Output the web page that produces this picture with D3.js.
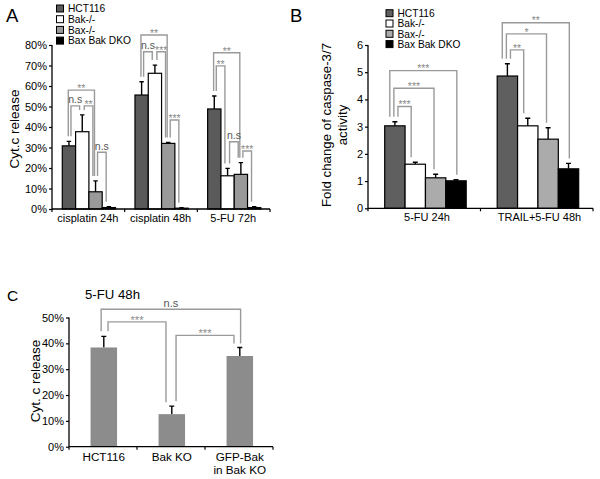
<!DOCTYPE html>
<html><head><meta charset="utf-8">
<script src="https://cdn.jsdelivr.net/npm/d3@7"></script>
<style>
body{margin:0;background:#fff}
svg{display:block}
text{font-family:"Liberation Sans",Arial,Helvetica,sans-serif}
</style>
</head><body>
<svg id="chart" width="600" height="479"></svg>
<script>
// ---------- DATA ----------
const seriesNames = ["HCT116", "Bak-/-", "Bax-/-", "Bax Bak DKO"];

// Panel A: cytochrome c release (fraction)
const aCategories = ["cisplatin 24h", "cisplatin 48h", "5-FU 72h"];
const aHCT116 = [0.308, 0.556, 0.488];
const aBak    = [0.377, 0.662, 0.162];
const aBax    = [0.084, 0.320, 0.169];
const aDKO    = [0.007, 0.004, 0.007];
const aErrHCT116 = [0.022, 0.065, 0.063];
const aErrBak    = [0.082, 0.040, 0.036];
const aErrBax    = [0.053, 0.005, 0.057];
const aErrDKO    = [0.004, 0.002, 0.004];
const aTicks = [0, 0.1, 0.2, 0.3, 0.4, 0.5, 0.6, 0.7, 0.8];
// [group, fromBar, toBar, nesting level, height, label]
const aBrackets = [
  [0, 0, 2, 1, 0.580, "**"], [0, 0, 1, 0, 0.503, "n.s"], [0, 1, 2, 0, 0.503, "**"], [0, 2, 3, 0, 0.277, "n.s"],
  [1, 0, 2, 1, 0.849, "**"], [1, 0, 1, 0, 0.767, "n.s"], [1, 1, 2, 0, 0.767, "***"], [1, 2, 3, 0, 0.434, "***"],
  [2, 0, 2, 1, 0.762, "**"], [2, 0, 1, 0, 0.698, "**"], [2, 1, 2, 0, 0.328, "n.s"], [2, 2, 3, 0, 0.283, "***"]
];

// Panel B: fold change of caspase-3/7 activity
const bCategories = ["5-FU 24h", "TRAIL+5-FU 48h"];
const bHCT116 = [3.03, 4.86];
const bBak    = [1.62, 3.03];
const bBax    = [1.12, 2.54];
const bDKO    = [1.01, 1.45];
const bErrHCT116 = [0.15, 0.45];
const bErrBak    = [0.07, 0.28];
const bErrBax    = [0.13, 0.42];
const bErrDKO    = [0.04, 0.20];
const bTicks = [0, 1, 2, 3, 4, 5, 6];
const bBrackets = [
  [0, 0, 3, 2, 5.06, "***"], [0, 0, 2, 1, 4.41, "***"], [0, 0, 1, 0, 3.74, "***"],
  [1, 0, 3, 2, 6.82, "**"], [1, 0, 2, 1, 6.41, "*"], [1, 0, 1, 0, 5.82, "**"]
];

// Panel C: 5-FU 48h cyt. c release
const cCategories = ["HCT116", "Bak KO", "GFP-Bak|in Bak KO"];
const cValues = [0.384, 0.126, 0.351];
const cErrors = [0.043, 0.031, 0.033];
const cTicks = [0, 0.1, 0.2, 0.3, 0.4, 0.5];
const cBrackets = [
  [0, 2, 1, 0.532, "n.s"], [0, 1, 0, 0.483, "***"], [1, 2, 0, 0.431, "***"]
];

// ---------- STYLE ----------
const seriesColorsA = ["#5a5a5a", "#ffffff", "#9a9a9a", "#000000"];
const seriesColorsB = ["#5f5f5f", "#ffffff", "#ababab", "#000000"];
const cColor = "#8c8c8c";
const brkColor = "#9a9a9a";
const starColor = "#8a8a8a";
const nsColor = "#555555";

const svg = d3.select("#chart");

function yAxis(g, y, x, ticks, fmt, fs) {
  const ax = g.append("g").attr("transform", `translate(${x},0)`)
    .call(d3.axisLeft(y).tickValues(ticks).tickFormat(fmt).tickSize(3).tickPadding(2));
  ax.select(".domain").attr("d", `M0,${y.range()[0]}V${y.range()[1]}`).attr("stroke", "#000").attr("stroke-width", 1.3);
  ax.selectAll(".tick line").attr("stroke", "#000").attr("stroke-width", 1.2);
  ax.selectAll(".tick text").attr("font-size", fs).attr("fill", "#000")
    .style("font-family", '"Liberation Sans",Arial,sans-serif');
}

function xAxisLine(g, x0, yPos) {
  const r = x0.range();
  g.append("line").attr("x1", r[0]).attr("x2", r[1]).attr("y1", yPos).attr("y2", yPos)
    .attr("stroke", "#000").attr("stroke-width", 1.3);
  const tickXs = x0.domain().map(d => x0(d)).concat([r[1]]);
  g.selectAll(null).data(tickXs).enter().append("line")
    .attr("x1", d => d).attr("x2", d => d).attr("y1", yPos).attr("y2", yPos + 3)
    .attr("stroke", "#000").attr("stroke-width", 1.2);
}

function bracketLabel(g, x, yh, label, fsStar, fsNs) {
  const isStar = label.indexOf("*") >= 0;
  g.append("text").attr("x", x).attr("y", isStar ? yh + 1.8 : yh - 2.5)
    .attr("text-anchor", "middle")
    .attr("font-size", isStar ? fsStar : fsNs)
    .attr("fill", isStar ? starColor : nsColor)
    .text(label);
}

function groupedPanel(opts) {
  const g = svg.append("g");
  const x0 = d3.scaleBand().domain(opts.categories).range(opts.xRange).padding(0);
  const x1 = d3.scaleBand().domain(seriesNames).range(opts.innerRange).padding(0);
  const y = d3.scaleLinear().domain(opts.yDomain).range(opts.yRange);
  const bw = x1.bandwidth();

  const rows = opts.categories.map((c, i) => ({
    cat: c,
    vals: seriesNames.map((s, j) => ({ s, j, v: opts.series[j][i], e: opts.errors[j][i] }))
  }));

  const grp = g.selectAll(".grp").data(rows).enter().append("g")
    .attr("transform", d => `translate(${x0(d.cat)},0)`);
  // error bars
  grp.selectAll(".err").data(d => d.vals).enter().append("path")
    .attr("d", d => {
      const cx = x1(d.s) + bw / 2, yt = y(d.v + d.e);
      return `M${cx},${y(d.v)}V${yt}M${cx - opts.cap},${yt}H${cx + opts.cap}`;
    })
    .attr("stroke", "#000").attr("stroke-width", 1.4).attr("fill", "none");
  grp.selectAll(".bar").data(d => d.vals).enter().append("rect")
    .attr("x", d => x1(d.s)).attr("width", bw)
    .attr("y", d => y(d.v)).attr("height", d => y(0) - y(d.v))
    .attr("fill", d => opts.colors[d.j]).attr("stroke", "#000").attr("stroke-width", 1.2);

  yAxis(g, y, opts.xRange[0], opts.ticks, opts.fmt, opts.tickFs);
  xAxisLine(g, x0, y(0));

  // category labels
  g.selectAll(".cl").data(opts.categories).enter().append("text")
    .attr("x", d => x0(d) + (opts.innerRange[0] + opts.innerRange[1]) / 2 + opts.labelDx)
    .attr("y", y(0) + opts.labelDy).attr("text-anchor", "middle")
    .attr("font-size", opts.catFs).attr("fill", "#000").text(d => d);

  // brackets
  const center = (gi, j) => x0(opts.categories[gi]) + x1(seriesNames[j]) + bw / 2;
  const topOf = (gi, j) => opts.series[j][gi] + opts.errors[j][gi];
  opts.brackets.forEach(([gi, a, b, lvl, h, label]) => {
    const xl = center(gi, a) + bw * (0.15 - 0.2 * lvl);
    const xr = center(gi, b) + bw * (-0.2 + 0.12 * lvl);
    const yh = y(h);
    const yl = y(topOf(gi, a)) - 5, yr = y(topOf(gi, b)) - 5;
    g.append("path").attr("d", `M${xl},${yl}V${yh}H${xr}V${yr}`)
      .attr("fill", "none").attr("stroke", brkColor).attr("stroke-width", 1.4);
    bracketLabel(g, (xl + xr) / 2, yh, label, opts.starFs, opts.nsFs);
  });

  // legend
  const lg = g.append("g");
  seriesNames.forEach((s, j) => {
    const yy = opts.legendY + j * opts.legendStep;
    lg.append("rect").attr("x", opts.legendX).attr("y", yy).attr("width", 7).attr("height", 7)
      .attr("fill", opts.colors[j]).attr("stroke", "#000").attr("stroke-width", 1);
    lg.append("text").attr("x", opts.legendX + 11.5).attr("y", yy + 7.3)
      .attr("font-size", 10.2).attr("fill", "#000").text(s);
  });
  return g;
}

// ---------- PANEL A ----------
const gA = groupedPanel({
  categories: aCategories,
  series: [aHCT116, aBak, aBax, aDKO],
  errors: [aErrHCT116, aErrBak, aErrBax, aErrDKO],
  colors: seriesColorsA,
  xRange: [52, 270], innerRange: [10.3, 63.5],
  yDomain: [0, 0.8], yRange: [209, 45],
  ticks: aTicks, fmt: d3.format(".0%"), tickFs: 11,
  catFs: 11, labelDx: -1, labelDy: 12.5,
  cap: 2.2, brackets: aBrackets, starFs: 10.5, nsFs: 10.5,
  legendX: 56.5, legendY: 5, legendStep: 10.7
});
svg.append("text").attr("transform", "translate(14,129) rotate(-90)")
  .attr("text-anchor", "middle").attr("dominant-baseline", "central")
  .attr("font-size", 13.5).text("Cyt.c release");
svg.append("text").attr("x", 6).attr("y", 22).attr("font-size", 18.5).text("A");

// ---------- PANEL B ----------
const gB = groupedPanel({
  categories: bCategories,
  series: [bHCT116, bBak, bBax, bDKO],
  errors: [bErrHCT116, bErrBak, bErrBax, bErrDKO],
  colors: seriesColorsB,
  xRange: [368, 593], innerRange: [16.7, 98.2],
  yDomain: [0, 6], yRange: [208.3, 45],
  ticks: bTicks, fmt: d3.format("d"), tickFs: 11,
  catFs: 11, labelDx: 1.5, labelDy: 13,
  cap: 2.5, brackets: bBrackets, starFs: 10.5, nsFs: 10.5,
  legendX: 386, legendY: 9.7, legendStep: 10.3
});
const bLabel = svg.append("text").attr("transform", "translate(326,125) rotate(-90)")
  .attr("text-anchor", "middle").attr("font-size", 13.3);
bLabel.append("tspan").attr("x", 0).attr("dy", "0.35em").text("Fold change of caspase-3/7");
bLabel.append("tspan").attr("x", 0).attr("dy", 16).text("activity");
svg.append("text").attr("x", 290).attr("y", 22).attr("font-size", 18.5).text("B");

// ---------- PANEL C ----------
(function () {
  const g = svg.append("g");
  const x = d3.scaleBand().domain(cCategories).range([69, 273]).padding(0);
  const y = d3.scaleLinear().domain([0, 0.5]).range([446.7, 317.5]);
  const bw = 26.5;
  const cx = d => x(d) + x.bandwidth() / 2 + 0.8;
  const rows = cCategories.map((c, i) => ({ c, v: cValues[i], e: cErrors[i] }));

  g.selectAll(".err").data(rows).enter().append("path")
    .attr("d", d => `M${cx(d.c)},${y(d.v)}V${y(d.v + d.e)}M${cx(d.c) - 2.5},${y(d.v + d.e)}H${cx(d.c) + 2.5}`)
    .attr("stroke", "#000").attr("stroke-width", 1.4).attr("fill", "none");
  g.selectAll(".bar").data(rows).enter().append("rect")
    .attr("x", d => cx(d.c) - bw / 2).attr("width", bw)
    .attr("y", d => y(d.v)).attr("height", d => y(0) - y(d.v))
    .attr("fill", cColor);

  yAxis(g, y, 69, cTicks, d3.format(".0%"), 11);
  xAxisLine(g, x, y(0));

  const lbl = g.selectAll(".cl").data(cCategories).enter().append("text")
    .attr("text-anchor", "middle").attr("font-size", 11.7).attr("fill", "#000");
  lbl.each(function (d) {
    const parts = d.split("|");
    const t = d3.select(this);
    parts.forEach((p, k) => {
      t.append("tspan").attr("x", cx(d)).attr("y", y(0) + 14 + k * 13.5).text(p);
    });
  });

  cBrackets.forEach(([a, b, lvl, h, label]) => {
    const ca = cx(cCategories[a]), cb = cx(cCategories[b]);
    const xl = ca + bw * (0.16 - 0.26 * lvl);
    const xr = cb + bw * (-0.22 + 0.25 * lvl);
    const yh = y(h);
    const yl = y(cValues[a] + cErrors[a]) - 5;
    const yr = y(cValues[b] + cErrors[b]) - 4;
    g.append("path").attr("d", `M${xl},${yl}V${yh}H${xr}V${yr}`)
      .attr("fill", "none").attr("stroke", brkColor).attr("stroke-width", 1.4);
    bracketLabel(g, (xl + xr) / 2, yh, label, 11, 11);
  });

  svg.append("text").attr("transform", "translate(35,381) rotate(-90)")
    .attr("text-anchor", "middle").attr("dominant-baseline", "central")
    .attr("font-size", 13.5).text("Cyt. c release");
  svg.append("text").attr("x", 85).attr("y", 298.5).attr("font-size", 13.2).text("5-FU 48h");
  svg.append("text").attr("x", 7).attr("y", 301).attr("font-size", 15.5).text("C");
})();
</script>
</body></html>
